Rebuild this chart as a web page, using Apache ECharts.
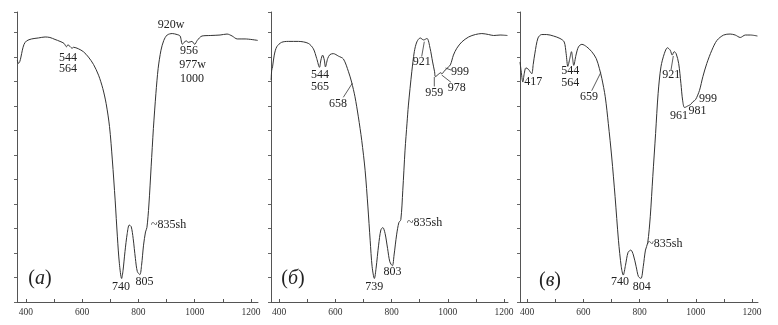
<!DOCTYPE html>
<html><head><meta charset="utf-8">
<script src="https://cdn.jsdelivr.net/npm/echarts@6/dist/echarts.min.js"></script>
<style>html,body{margin:0;padding:0;background:#fff}#c{width:778px;height:325px}</style>
</head><body><div id="c"></div>
<script>
// wavenumber (cm-1) and transmittance (arbitrary units) for the three spectra
const waveA = [369,373,378,382,387,393,402,420,444,468,485,503,521,535,544,549,556,564,569,586,604,622,640,658,673,685,697,707,717,725,732,740,745,752,760,767,774,781,789,796,805,811,818,825,830,837,845,853,862,870,880,890,902,920,937,948,956,962,970,977,990,1000,1009,1026,1055,1090,1115,1133,1151,1179,1224];
const transA = [49.4,48.7,49.1,50.0,51.4,52.6,53.3,53.7,53.9,54.1,54.0,53.6,53.2,52.8,52.1,52.5,52.2,51.8,52.0,51.7,51.1,50.0,48.5,46.3,43.6,40.5,35.8,29.0,20.8,13.3,7.9,4.8,6.4,10.3,14.0,15.7,15.4,13.0,8.9,6.2,5.6,7.5,11.6,14.3,15.2,19.8,27.6,35.4,42.6,47.7,51.4,53.4,54.5,54.8,54.6,54.3,52.6,53.0,53.3,53.0,53.2,52.6,53.4,54.3,54.4,54.5,54.7,54.3,53.7,53.7,53.4];

const waveB = [372,374,377,383,392,409,433,469,504,522,534,544,549,555,561,565,573,581,593,611,629,647,658,670,682,694,706,716,724,731,739,745,754,762,769,777,786,794,803,809,818,826,833,840,848,855,860,872,881,890,902,914,926,937,946,953,956,967,975,979,987,997,1009,1020,1032,1050,1074,1098,1121,1145,1163,1186,1212];
const transB = [45.3,47.3,48.0,50.4,52.1,53.0,53.2,53.2,52.8,51.7,49.7,47.9,49.4,50.4,49.4,48.0,49.7,50.5,50.7,50.2,49.6,47.0,44.9,41.9,37.8,33.0,26.9,19.4,12.6,7.2,4.8,6.9,11.6,14.7,15.2,14.0,10.9,8.2,7.4,9.6,13.7,16.2,16.8,22.8,31.0,36.5,40.2,47.0,51.1,53.1,53.9,53.5,53.8,51.8,49.0,47.0,46.0,46.5,46.8,46.6,47.1,47.7,48.4,50.4,51.8,53.1,54.1,54.6,54.8,54.6,54.4,54.5,54.4];

const waveC = [375,379,385,390,396,405,411,417,422,428,439,452,470,494,517,532,539,545,552,558,562,566,574,583,595,612,630,646,657,666,678,689,701,713,725,735,742,750,759,769,778,788,796,805,813,821,829,838,847,857,866,876,888,899,909,916,923,930,939,947,953,960,974,981,990,999,1013,1025,1039,1057,1075,1099,1122,1140,1158,1176,1194,1219];
const transC = [49.0,47.2,44.9,46.6,47.8,47.5,47.0,46.6,48.5,50.8,53.9,54.6,54.6,54.3,53.8,53.1,50.7,48.1,49.7,51.1,49.7,48.3,50.4,52.1,52.6,52.1,51.1,49.7,47.7,45.6,41.9,36.4,29.6,21.5,12.6,7.2,5.5,7.5,10.1,10.6,9.6,7.2,5.2,4.8,7.2,10.6,12.1,17.4,25.6,34.4,42.6,48.0,50.7,51.9,51.4,50.4,51.1,50.7,48.7,44.6,41.2,39.7,40.1,40.3,40.9,41.3,43.2,46.0,48.7,51.4,53.4,54.5,54.7,54.5,54.0,54.5,54.5,54.3];

const xLabelValues = [400,600,800,1000,1200];
const xTickValues = [400,500,600,700,800,900,1000,1100,1200];
const panelLetters = ['а','б','в'];
const annotA = ['544','564','920w','956','977w','1000','~835sh','740','805'];
const annotB = ['544','565','658','921','959','978','999','~835sh','739','803'];
const annotC = ['417','544','564','659','921','961','981','999','~835sh','740','804'];

// ---- layout (pixels) ----
const panels = [
  {left:17, width:241, min:368, max:1225, wave:waveA, trans:transA},
  {left:271, width:237, min:371.5, max:1214, wave:waveB, trans:transB},
  {left:520, width:238, min:375, max:1221, wave:waveC, trans:transC}
];
const annotPos = [
  [[68,58],[68,69],[171,25],[189,51],[192.5,65],[192,79],[151,225,'left'],[121,287],[144.5,282]],
  [[320,75],[320,87],[338,104],[421.7,62],[434.3,93],[456.7,88.3],[460,71.7],[407,223,'left'],[374.2,286.5],[392.5,272]],
  [[533.3,82],[570.3,71.3],[570.3,83],[589,96.7],[671.2,75.3],[679,115.7],[697.5,110.5],[708,98.7],[647.3,244.3,'left'],[620,282],[641.7,286.7]]
];
const leaders = [
  [343.3,97.3,352.3,83.3],
  [421.7,56.5,424.3,41.7],
  [434.3,86.5,434.3,77],
  [451,82.3,441.7,75],
  [451,70,445.5,68],
  [591.7,90.7,600.7,72.7],
  [671,70,673.3,56]
];
const panelLabelPos = [[40,279],[293,279],[550,281]];

const annots = [annotA, annotB, annotC];
const FONT = '"Liberation Serif","Times New Roman",serif';
const graphic = [];
annots.forEach((arr, p) => {
  arr.forEach((t, i) => {
    const pos = annotPos[p][i];
    graphic.push({type:'text', silent:true, style:{text:t, x:pos[0], y:pos[1],
      textAlign: pos[2] || 'center', textVerticalAlign:'middle',
      fontFamily:FONT, fontSize:12, fill:'#222'}});
  });
});
leaders.forEach(l => graphic.push({type:'line', silent:true, shape:{x1:l[0],y1:l[1],x2:l[2],y2:l[3]}, style:{stroke:'#333', lineWidth:0.8}}));
panelLetters.forEach((L, i) => {
  graphic.push({type:'text', silent:true, style:{
    text:'{p|(}{l|' + L + '}{p|)}', x:panelLabelPos[i][0], y:panelLabelPos[i][1],
    textAlign:'center', textVerticalAlign:'middle',
    rich:{p:{fontFamily:FONT, fontSize:20, fill:'#222'}, l:{fontFamily:FONT, fontSize:20, fontStyle:'italic', fill:'#222'}}
  }});
});

const option = {
  animation:false,
  backgroundColor:'#fff',
  grid: panels.map(p => ({left:p.left, width:p.width, top:12, height:290})),
  xAxis: panels.map((p, i) => ({
    type:'value', gridIndex:i, min:p.min, max:p.max,
    axisLine:{show:true, lineStyle:{color:'#555', width:1}},
    axisTick:{show:true, inside:true, length:3, customValues:xTickValues, lineStyle:{color:'#555'}},
    axisLabel:{show:true, customValues:xLabelValues, formatter:v => String(Math.round(v)),
      fontFamily:FONT, fontSize:9.5, color:'#333', margin:5},
    splitLine:{show:false}
  })),
  yAxis: panels.map((p, i) => ({
    type:'value', gridIndex:i, min:0, max:59.2, interval:5,
    axisLine:{show:true, lineStyle:{color:'#555', width:1}},
    axisTick:{show:true, inside:false, length:3, lineStyle:{color:'#666'}},
    axisLabel:{show:false}, splitLine:{show:false}
  })),
  series: panels.map((p, i) => ({
    type:'line', xAxisIndex:i, yAxisIndex:i, showSymbol:false, smooth:0.3,
    lineStyle:{color:'#333', width:1}, silent:true,
    data: p.wave.map((w, k) => [w, p.trans[k]])
  })),
  graphic: graphic
};
const chart = echarts.init(document.getElementById('c'), null, {renderer:'canvas'});
chart.setOption(option);
</script></body></html>
